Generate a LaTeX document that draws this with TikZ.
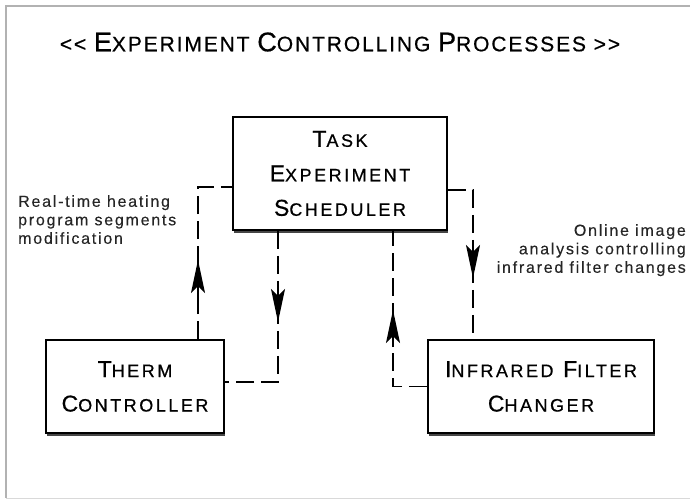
\documentclass[tikz,border=0pt]{standalone}
\usepackage{fontspec}
\setmainfont{Liberation Sans}
\usetikzlibrary{arrows.meta,calc,shadows}

% small caps built from two sizes: first letter large, rest smaller capitals
\newcommand\bigsz{\fontsize{23pt}{34.5pt}\selectfont}
\newcommand\smlsz{\fontsize{18pt}{34.5pt}\selectfont}
\newcommand\scw[2]{{\bigsz #1}{\smlsz #2}}
\newcommand\titlebig{\fontsize{27pt}{30pt}\selectfont}
\newcommand\titlesml{\fontsize{21pt}{30pt}\selectfont}
\newcommand\tsc[2]{{\titlebig #1}{\titlesml #2}}
\newcommand\boxfont{\addfontfeatures{LetterSpace=14,FakeBold=0.6}\fontsize{23pt}{34.5pt}\selectfont}
\newcommand\notefont{\addfontfeatures{LetterSpace=11,FakeBold=0.3}\fontsize{16pt}{18.5pt}\selectfont}

\begin{document}
\begin{tikzpicture}[x=1pt,y=-1pt,
  box/.style={draw=black, line width=1.6pt, fill=white, inner sep=0pt,
    align=center, font=\boxfont,
    drop shadow={shadow xshift=0.8pt, shadow yshift=-2.6pt, opacity=0.85, fill=black!85}},
  conn/.style={line width=1.4pt, dash pattern=on 18pt off 7pt},
  tip/.style={line width=1.4pt, -{Stealth[length=33pt,width=14pt,inset=7pt]}},
  note/.style={font=\notefont, inner sep=0pt, text=black!85}]
\useasboundingbox (0,0) rectangle (690,500);
\clip (0,0) rectangle (690,500);

% outer frame
\draw[gray!60, line width=2.5pt] (720,6) -- (6,6) -- (6,498);
\draw[gray!30, line width=1.2pt] (6,498.5) -- (720,498.5);

% title
\node[inner sep=0pt, font=\addfontfeatures{LetterSpace=9,FakeBold=0.6}\titlesml] (title) at (340,42)
  {<{}< \tsc{E}{XPERIMENT} \tsc{C}{ONTROLLING} \tsc{P}{ROCESSES} >{}>};

% process boxes
\node[box, minimum width=214pt, minimum height=113pt] (task) at (340,173.5)
  {\scw{T}{ASK}\\\scw{E}{XPERIMENT}\\\scw{S}{CHEDULER}};
\node[box, minimum width=178pt, minimum height=93pt] (therm) at (135,386.5)
  {\scw{T}{HERM}\\\scw{C}{ONTROLLER}};
\node[box, minimum width=226pt, minimum height=93pt] (infra) at (541,386.5)
  {\scw{I}{NFRARED} \scw{F}{ILTER}\\\scw{C}{HANGER}};

% connector end points on the box borders
\coordinate (t1) at ([xshift=63pt]therm.north);
\coordinate (k1) at ([yshift=-13.5pt]task.west);
\coordinate (k2) at ([xshift=-62pt]task.south);
\coordinate (t2) at ([yshift=4.5pt]therm.east);
\coordinate (k3) at ([xshift=53pt]task.south);
\coordinate (k4) at ([yshift=-16.5pt]task.east);
\coordinate (i4) at ([xshift=-68pt]infra.north);

% connectors
\draw[conn] (t1) |- (k1);
\draw[conn] (k2) |- (t2);
\draw[conn] (infra.west) -| (k3);
\draw[conn] (k4) -| (i4);

% direction arrows on the connectors
\draw[tip] (t1 |- 0,297) -- (t1 |- 0,260);
\draw[tip] (k2 |- 0,285) -- (k2 |- 0,322);
\draw[tip] (k3 |- 0,347) -- (k3 |- 0,310);
\draw[tip] (i4 |- 0,241) -- (i4 |- 0,278);

% connector notes
\node[note, anchor=north west, align=left] (n1) at (18,195)
  {Real-time heating\\program segments\\modification};
\node[note, anchor=north east, align=right] (n2) at (686,224)
  {Online image\\analysis controlling\\infrared filter changes};
\end{tikzpicture}
\end{document}
